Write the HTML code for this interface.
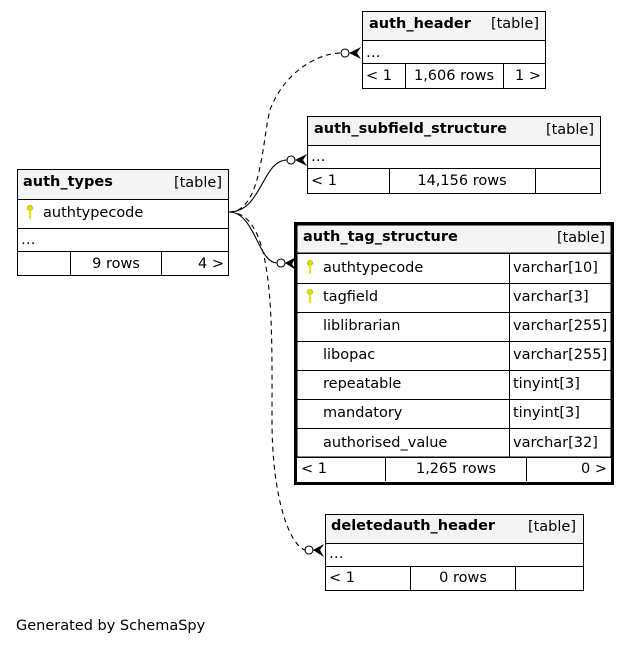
<!DOCTYPE html>
<html><head><meta charset="utf-8"><style>
html,body{margin:0;padding:0;background:#fff;}
svg text{font-family:"DejaVu Sans","Liberation Sans",sans-serif;font-size:14.5px;fill:#000;}
.b{font-weight:bold;}
</style></head><body>
<svg width="631" height="645" viewBox="0 0 631 645" xmlns="http://www.w3.org/2000/svg">
<defs>
<g id="key"><circle cx="0" cy="-4" r="2.6" fill="#e0e000" stroke="#b8b800" stroke-width="0.8"/><rect x="-0.9" y="-2" width="1.8" height="9" fill="#e0e000"/></g>
</defs>
<g fill="none" stroke="#000" stroke-width="1.1">
<path d="M229,212 C262,212 262,140 270,110 C285,70 320,53 341,53" stroke-dasharray="5,4"/>
<path d="M229,212 C262,212 262,160 287,160"/>
<path d="M229,212 C255,212 258,263 277,263"/>
<path d="M229,212 C275,212 272,320 272,420 C272,500 290,545 305,550" stroke-dasharray="5,4"/>
</g>
<g fill="#fff" stroke="#000" stroke-width="1.1">
<circle cx="345" cy="53" r="4"/><circle cx="291" cy="160" r="4"/><circle cx="281" cy="263" r="4"/><circle cx="309" cy="550" r="4"/>
</g>
<g fill="#000">
<path d="M349,53 L361,47 L357,53 L361,59 Z"/>
<path d="M295,160 L307,154 L303,160 L307,166 Z"/>
<path d="M285,263 L296,257 L292,264 L296,270 Z"/>
<path d="M313,550 L324,544 L320,550 L324,557 Z"/>
</g>
<g stroke="#000" stroke-width="1" fill="none">
<rect x="362.5" y="11.5" width="183" height="29" fill="#f4f4f4"/>
<rect x="362.5" y="40.5" width="183" height="23" fill="#fff"/>
<rect x="362.5" y="63.5" width="183" height="25" fill="#fff"/>
<line x1="405.5" y1="64" x2="405.5" y2="88"/><line x1="503.5" y1="64" x2="503.5" y2="88"/>
<rect x="307.5" y="116.5" width="293" height="29" fill="#f4f4f4"/>
<rect x="307.5" y="145.5" width="293" height="23" fill="#fff"/>
<rect x="307.5" y="168.5" width="293" height="25" fill="#fff"/>
<line x1="389.5" y1="169" x2="389.5" y2="193"/><line x1="535.5" y1="169" x2="535.5" y2="193"/>
<rect x="17.5" y="169.5" width="211" height="30" fill="#f4f4f4"/>
<rect x="17.5" y="199.5" width="211" height="29" fill="#fff"/>
<rect x="17.5" y="228.5" width="211" height="23" fill="#fff"/>
<rect x="17.5" y="251.5" width="211" height="24" fill="#fff"/>
<line x1="70.5" y1="252" x2="70.5" y2="275"/><line x1="161.5" y1="252" x2="161.5" y2="275"/>
<rect x="297" y="225" width="314" height="28" fill="#f4f4f4"/>
<rect x="297" y="253" width="314" height="204" fill="#fff"/>
<line x1="297" y1="283.5" x2="611" y2="283.5"/><line x1="297" y1="312.5" x2="611" y2="312.5"/>
<line x1="297" y1="341.5" x2="611" y2="341.5"/><line x1="297" y1="370.5" x2="611" y2="370.5"/>
<line x1="297" y1="399.5" x2="611" y2="399.5"/><line x1="297" y1="428.5" x2="611" y2="428.5"/>
<line x1="297" y1="457.5" x2="611" y2="457.5"/><line x1="297" y1="253.5" x2="611" y2="253.5"/>
<line x1="509.5" y1="253" x2="509.5" y2="457"/>
<line x1="385.5" y1="458" x2="385.5" y2="481"/><line x1="526.5" y1="458" x2="526.5" y2="481"/>
<rect x="295.5" y="223.5" width="317" height="260" stroke-width="3"/>
<rect x="325.5" y="514.5" width="258" height="29" fill="#f4f4f4"/>
<rect x="325.5" y="543.5" width="258" height="23" fill="#fff"/>
<rect x="325.5" y="566.5" width="258" height="24" fill="#fff"/>
<line x1="410.5" y1="567" x2="410.5" y2="590"/><line x1="515.5" y1="567" x2="515.5" y2="590"/>
</g>
<text x="369" y="28" class="b">auth_header</text><text x="539" y="28" text-anchor="end">[table]</text>
<text x="366" y="57">…</text>
<text x="366" y="80">&lt; 1</text><text x="454" y="80" text-anchor="middle">1,606 rows</text><text x="541" y="80" text-anchor="end">1 &gt;</text>

<text x="314" y="133" class="b">auth_subfield_structure</text><text x="594" y="134" text-anchor="end">[table]</text>
<text x="311" y="161">…</text>
<text x="311" y="185">&lt; 1</text><text x="462" y="185" text-anchor="middle">14,156 rows</text>

<text x="23" y="186" class="b">auth_types</text><text x="222" y="187" text-anchor="end">[table]</text>
<use href="#key" x="30" y="212"/><text x="43" y="217">authtypecode</text>
<text x="21" y="244">…</text>
<text x="116" y="268" text-anchor="middle">9 rows</text><text x="224" y="268" text-anchor="end">4 &gt;</text>

<text x="303" y="241" class="b">auth_tag_structure</text><text x="605" y="242" text-anchor="end">[table]</text>
<use href="#key" x="310" y="267"/><text x="323" y="272">authtypecode</text><text x="513" y="272">varchar[10]</text>
<use href="#key" x="310" y="296"/><text x="323" y="301">tagfield</text><text x="513" y="301">varchar[3]</text>
<text x="323" y="330">liblibrarian</text><text x="513" y="330">varchar[255]</text>
<text x="323" y="359">libopac</text><text x="513" y="359">varchar[255]</text>
<text x="323" y="388">repeatable</text><text x="513" y="388">tinyint[3]</text>
<text x="323" y="417">mandatory</text><text x="513" y="417">tinyint[3]</text>
<text x="323" y="447">authorised_value</text><text x="513" y="447">varchar[32]</text>
<text x="301" y="473">&lt; 1</text><text x="456" y="473" text-anchor="middle">1,265 rows</text><text x="607" y="473" text-anchor="end">0 &gt;</text>

<text x="331" y="530" class="b">deletedauth_header</text><text x="576" y="531" text-anchor="end">[table]</text>
<text x="329" y="558">…</text>
<text x="329" y="582">&lt; 1</text><text x="463" y="582" text-anchor="middle">0 rows</text>

<text x="16" y="630">Generated by SchemaSpy</text>
</svg>
</body></html>
